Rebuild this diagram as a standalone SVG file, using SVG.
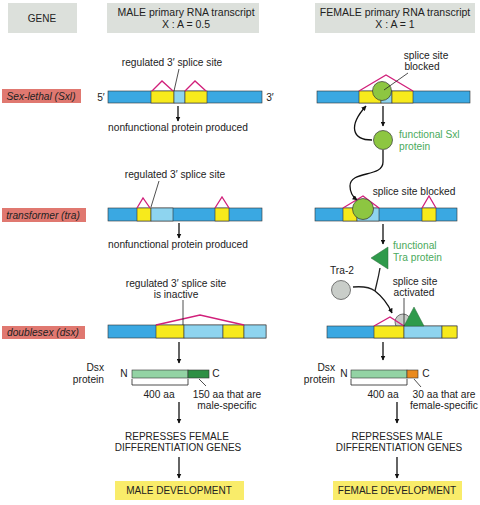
<svg xmlns="http://www.w3.org/2000/svg" width="480" height="505" viewBox="0 0 480 505">
<defs>
<marker id="ah" viewBox="0 0 10 10" refX="9" refY="5" markerWidth="5" markerHeight="5" orient="auto" markerUnits="userSpaceOnUse">
<path d="M0,0 L10,5 L0,10 z" fill="#111"/>
</marker>
<style>
text{font-family:"Liberation Sans",Arial,sans-serif;font-size:10.2px;fill:#222;text-anchor:middle}
.hdr{fill:#dce0db}
.hdr-t{font-size:10.5px}
.up{font-size:10px}
.lab{fill:#e07870}
.it{font-style:italic}
.b{fill:#3aa8e2;stroke:#333;stroke-width:0.6}
.lb{fill:#8ed4ef;stroke:#333;stroke-width:0.6}
.y{fill:#f7ea1c;stroke:#333;stroke-width:0.6}
.pk{fill:none;stroke:#d11f7a;stroke-width:1.3}
.ln{fill:none;stroke:#222;stroke-width:0.8}
.ar{fill:none;stroke:#111;stroke-width:1.3;marker-end:url(#ah)}
.gc{fill:#8dc641;stroke:#333;stroke-width:0.7}
.gt{fill:#4aaa5c}
.dev{fill:#f9ec6a}
</style>
</defs>
<rect width="480" height="505" fill="#fff"/>

<g id="headers">
<rect class="hdr" x="8" y="3" width="69" height="30"/>
<text class="up" x="42" y="22">GENE</text>
<rect class="hdr" x="107" y="3" width="152" height="30"/>
<text class="hdr-t" x="186" y="16">MALE primary RNA transcript</text>
<text class="hdr-t" x="186" y="28">X : A = 0.5</text>
<rect class="hdr" x="315" y="3" width="160" height="30"/>
<text class="hdr-t" x="395" y="16">FEMALE primary RNA transcript</text>
<text class="hdr-t" x="395" y="28">X : A = 1</text>
</g>

<g id="gene-labels">
<g id="label-sxl"><rect class="lab" x="2" y="89" width="79" height="14"/><text class="it" x="41" y="99.5">Sex-lethal (Sxl)</text></g>
<g id="label-tra"><rect class="lab" x="2" y="208" width="84" height="14"/><text class="it" x="43" y="218.5">transformer (tra)</text></g>
<g id="label-dsx"><rect class="lab" x="2" y="326" width="83" height="13"/><text class="it" x="43" y="336">doublesex (dsx)</text></g>
</g>

<g id="male-sxl">
<text x="101" y="101">5′</text>
<text x="270" y="101">3′</text>
<rect class="b" x="108" y="91" width="154" height="12"/>
<rect class="y" x="151" y="91" width="23" height="12"/>
<rect class="lb" x="174" y="91" width="11" height="12"/>
<rect class="y" x="185" y="91" width="22" height="12"/>
<path class="pk" d="M152,91 L162,81 L173,91 M185,91 L195,81 L206,91"/>
<text x="172" y="66">regulated 3′ splice site</text>
<path class="ln" d="M179,69 L174,91"/>
<text x="178" y="131">nonfunctional protein produced</text>
</g>

<g id="female-sxl">
<rect class="b" x="317" y="91" width="153" height="12"/>
<rect class="y" x="359" y="91" width="22" height="12"/>
<rect class="lb" x="381" y="91" width="11" height="12"/>
<rect class="y" x="392" y="91" width="21" height="12"/>
<path class="pk" d="M359,91 L386,75 L413,91"/>
<circle class="gc" cx="382" cy="91" r="9.5"/>
<text x="426" y="59">splice site</text>
<text x="422" y="70">blocked</text>
<path class="ln" d="M408,73 L384,90"/>
<circle id="sxl-protein" class="gc" cx="383" cy="140" r="9.5"/>
<text class="gt" x="399" y="138" style="text-anchor:start">functional Sxl</text>
<text class="gt" x="399" y="150" style="text-anchor:start">protein</text>
</g>

<g id="male-tra">
<rect class="b" x="108" y="208" width="154" height="13"/>
<rect class="y" x="137" y="208" width="14" height="13"/>
<rect class="lb" x="151" y="208" width="22" height="13"/>
<rect class="y" x="215" y="208" width="14" height="13"/>
<path class="pk" d="M137,208 L143,198 L150,208 M215,208 L222,197 L229,208"/>
<text x="175" y="178">regulated 3′ splice site</text>
<path class="ln" d="M159,181 L151,207"/>
<text x="178" y="248">nonfunctional protein produced</text>
</g>

<g id="female-tra">
<rect class="b" x="315" y="208" width="142" height="13"/>
<rect class="y" x="343" y="208" width="14" height="13"/>
<rect class="lb" x="357" y="208" width="22" height="13"/>
<rect class="y" x="422" y="208" width="14" height="13"/>
<path class="pk" d="M343,208 L363,196 L379,208 M422,208 L429,196 L436,208"/>
<circle class="gc" cx="363" cy="209" r="10.5"/>
<text x="414" y="195">splice site blocked</text>
<polygon id="tra-protein" points="371,258 388,247 388,269" fill="#2f9a4b" stroke="#2a6a3a" stroke-width="0.5"/>
<text class="gt" x="393" y="249" style="text-anchor:start">functional</text>
<text class="gt" x="393" y="261" style="text-anchor:start">Tra protein</text>
<text x="342" y="274">Tra-2</text>
<circle id="tra2" cx="341" cy="290" r="9.5" fill="#c9cdc9" stroke="#444" stroke-width="0.7"/>
</g>

<g id="male-dsx">
<rect class="b" x="108" y="325" width="158" height="13"/>
<rect class="y" x="156" y="325" width="28" height="13"/>
<rect class="lb" x="184" y="325" width="39" height="13"/>
<rect class="y" x="223" y="325" width="21" height="13"/>
<rect class="lb" x="244" y="325" width="22" height="13"/>
<path class="pk" d="M156,325 L200,315 L244,325"/>
<text x="176" y="287">regulated 3′ splice site</text>
<text x="176" y="298">is inactive</text>
<path class="ln" d="M183,300 L183,325"/>
</g>

<g id="female-dsx">
<circle cx="403" cy="322" r="8" fill="#c9cdc9" stroke="#444" stroke-width="0.7"/>
<rect class="b" x="327" y="326" width="130" height="12"/>
<rect class="y" x="374" y="326" width="30" height="12"/>
<rect class="lb" x="404" y="326" width="38" height="12"/>
<rect class="y" x="442" y="326" width="15" height="12"/>
<path class="pk" d="M374,326 L390,317 L404,326"/>
<polygon points="404,326 424,326 414,307" fill="#2f9a4b" stroke="#2a6a3a" stroke-width="0.5"/>
<text x="415" y="285">splice site</text>
<text x="414" y="296">activated</text>
<path class="ln" d="M404,298 L404,326"/>
</g>

<g id="male-protein">
<text x="104" y="371" style="text-anchor:end">Dsx</text>
<text x="104" y="383" style="text-anchor:end">protein</text>
<text x="124" y="377">N</text>
<rect x="132" y="370" width="56" height="8" fill="#93d3a4" stroke="#333" stroke-width="0.6"/>
<rect x="188" y="370" width="21" height="8" fill="#2e8f44" stroke="#333" stroke-width="0.6"/>
<text x="216" y="377">C</text>
<path class="ln" d="M132,379 L132,385 L188,385 L188,379 M199,379 L206,386"/>
<text x="159" y="398">400 aa</text>
<text x="227" y="398">150 aa that are</text>
<text x="227" y="409">male-specific</text>
</g>

<g id="female-protein">
<text x="335" y="371" style="text-anchor:end">Dsx</text>
<text x="335" y="383" style="text-anchor:end">protein</text>
<text x="344" y="377">N</text>
<rect x="351" y="370" width="56" height="8" fill="#93d3a4" stroke="#333" stroke-width="0.6"/>
<rect x="407" y="370" width="11" height="8" fill="#ea8a1e" stroke="#333" stroke-width="0.6"/>
<text x="426" y="377">C</text>
<path class="ln" d="M351,379 L351,385 L407,385 L407,379 M414,379 L421,387"/>
<text x="383" y="398">400 aa</text>
<text x="444" y="398">30 aa that are</text>
<text x="444" y="409">female-specific</text>
</g>

<g id="male-outcome">
<text class="up" x="177" y="440">REPRESSES FEMALE</text>
<text class="up" x="178" y="451">DIFFERENTIATION GENES</text>
<rect class="dev" x="115" y="481" width="129" height="19"/>
<text class="up" x="179" y="494">MALE DEVELOPMENT</text>
</g>

<g id="female-outcome">
<text class="up" x="397" y="440">REPRESSES MALE</text>
<text class="up" x="399" y="451">DIFFERENTIATION GENES</text>
<rect class="dev" x="333" y="481" width="129" height="19"/>
<text class="up" x="397" y="494">FEMALE DEVELOPMENT</text>
</g>

<g id="connectors">
<path class="ar" d="M178,106 L178,121"/>
<path class="ar" d="M383,106 L383,126"/>
<path class="ar" d="M372,140 C352,140 348,126 366,106"/>
<path class="ar" d="M383,150 L383,162 C383,178 350,170 350,186 C350,193 353,197 357,200"/>
<path class="ar" d="M179,223 L179,238"/>
<path class="ar" d="M383,224 L383,244"/>
<path class="ar" d="M179,342 L179,363"/>
<path class="ar" d="M383,342 L383,360"/>
<path class="ln" style="stroke-width:1.3" d="M380,268 C378,280 376,286 375,291 M353,287 C364,286 371,288 375,291"/>
<path class="ar" d="M375,291 C384,298 388,304 392,313"/>
<path class="ar" d="M179,402 L179,423"/>
<path class="ar" d="M397,402 L397,423"/>
<path class="ar" d="M179,457 L179,478"/>
<path class="ar" d="M397,457 L397,478"/>
</g>
</svg>
